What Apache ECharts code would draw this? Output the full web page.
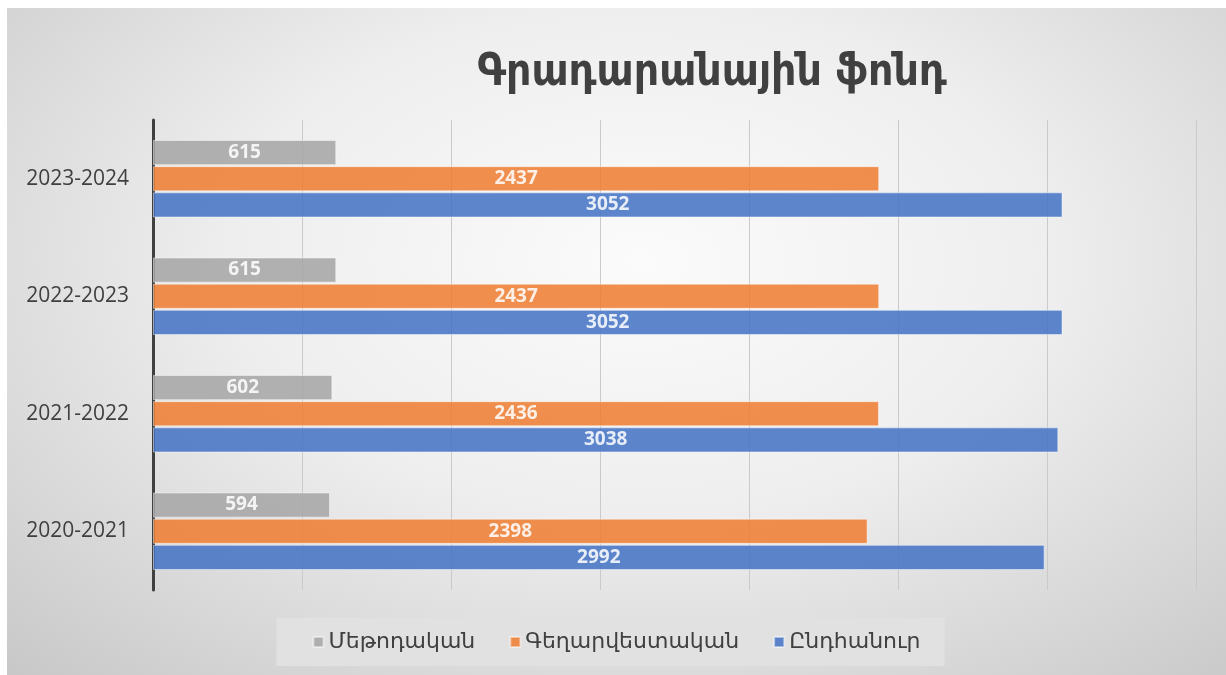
<!DOCTYPE html>
<html>
<head>
<meta charset="utf-8">
<script src="https://cdn.jsdelivr.net/npm/echarts@6/dist/echarts.min.js"></script>
<style>
  html, body { margin: 0; padding: 0; background: #ffffff; width: 1226px; height: 675px; overflow: hidden; }
  #chart {
    position: absolute; left: 7px; top: 8px; width: 1219px; height: 667px;
    background: radial-gradient(ellipse 75% 85% at 52% 38%, #fbfbfb 0%, #eeeeee 45%, #d6d6d6 80%, #c8c8c8 100%);
  }
</style>
</head>
<body>
<div id="chart"></div>
<script>
// Library holdings per academic year
const years = ['2020-2021', '2021-2022', '2022-2023', '2023-2024'];
const methodical = [594, 602, 615, 615];
const fiction = [2398, 2436, 2437, 2437];
const total = [2992, 3038, 3052, 3052];
const seriesNames = ['Մեթոդական', 'Գեղարվեստական', 'Ընդհանուր'];
const seriesColors = ['#a5a5a5', '#ed7d31', '#4472c4'];
const titleText = 'Գրադարանային ֆոնդ';

const armFont = '"DejaVu Sans", sans-serif';
const armTitleFont = '"DejaVu Sans Condensed", "DejaVu Sans", sans-serif';
const latinFont = '"Open Sans", "Liberation Sans", sans-serif';

function barSeries(name, data, color) {
  return {
    name: name,
    type: 'bar',
    data: data,
    barGap: '4%',
    barCategoryGap: '34%',
    itemStyle: { color: color, opacity: 0.86, borderColor: 'rgba(255,255,255,0.55)', borderWidth: 1 },
    label: {
      show: true, position: 'inside', color: '#ffffff',
      fontFamily: latinFont, fontWeight: 'bold', fontSize: 19
    },
    emphasis: { disabled: true }
  };
}

const chart = echarts.init(document.getElementById('chart'), null, { renderer: 'canvas' });
chart.setOption({
  animation: false,
  backgroundColor: 'transparent',
  title: {
    text: titleText, left: 700, top: 39, textAlign: 'center',
    textStyle: { fontFamily: armTitleFont, fontWeight: 'bold', fontSize: 44, color: '#404040' }
  },
  legend: {
    data: seriesNames,
    left: 'center', top: 610,
    backgroundColor: '#e1e1e1',
    padding: [13, 24, 13, 36],
    itemWidth: 10, itemHeight: 10, itemGap: 34,
    icon: 'rect',
    textStyle: { fontFamily: armFont, fontSize: 22, color: '#404040' }
  },
  grid: { left: 146, right: 30, top: 112, bottom: 85 },
  xAxis: {
    type: 'value', min: 0, max: 3500, interval: 500,
    axisLabel: { show: false }, axisLine: { show: false }, axisTick: { show: false },
    splitLine: { show: true, lineStyle: { color: '#cacaca', width: 1 } }
  },
  yAxis: {
    type: 'category', data: years,
    axisLine: { show: true, lineStyle: { color: '#404040', width: 3 } },
    axisTick: { show: false },
    axisLabel: { fontFamily: latinFont, fontSize: 21, color: '#404040', margin: 24 }
  },
  series: [
    barSeries(seriesNames[0], methodical, seriesColors[0]),
    barSeries(seriesNames[1], fiction, seriesColors[1]),
    barSeries(seriesNames[2], total, seriesColors[2])
  ]
});
</script>
</body>
</html>
